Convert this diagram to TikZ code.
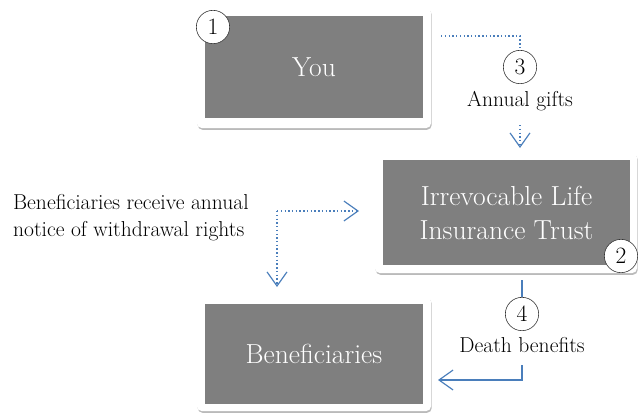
\documentclass[tikz,border=0pt]{standalone}
\usepackage{tikz}
\usetikzlibrary{shapes,arrows.meta,shadows}

\definecolor{boxgray}{HTML}{7F7F7F}
\definecolor{flowblue}{HTML}{4A7EBB}

\tikzset{
  card/.style={shape=rectangle,fill=white,rounded corners=4pt,
    drop shadow={shadow xshift=0.6pt,shadow yshift=-1.5pt,fill=black!45,opacity=0.6}},
  panel/.style={shape=rectangle,fill=boxgray,text=white,align=center,
    font=\fontsize{23.5}{29}\selectfont},
  stepnum/.style={shape=circle,draw=black!80,fill=white,line width=0.5pt,
    minimum size=1.0cm,inner sep=0pt,font=\fontsize{20}{20}\selectfont},
  caption/.style={align=left,font=\fontsize{18.4}{23}\selectfont},
  flowtip/.style={-{Straight Barb[length=12pt,width=17pt,line width=1pt]}},
  dotflow/.style={draw=flowblue,line width=1.2pt,dotted},
  solidflow/.style={draw=flowblue,line width=1pt},
}

\begin{document}
\begin{tikzpicture}[x=0.03cm,y=-0.03cm]
\useasboundingbox (0,0) rectangle (643,412);

\node[card,minimum width=7.02cm,minimum height=3.6cm] (youcard) at (314,68) {};
\node[panel,minimum width=6.54cm,minimum height=3.06cm] (you) at (314,67) {You};
\node[stepnum] (n1) at (213,27) {1};

\node[card,minimum width=7.86cm,minimum height=3.6cm] (trustcard) at (506,213) {};
\node[panel,minimum width=7.41cm,minimum height=3.15cm] (trust) at (506.5,212.5) {Irrevocable Life\\Insurance Trust};
\node[stepnum] (n2) at (621,256) {2};

\node[card,minimum width=7.02cm,minimum height=3.42cm] (benecard) at (314,354) {};
\node[panel,minimum width=6.54cm,minimum height=3.0cm] (bene) at (314,354) {Beneficiaries};

\node[stepnum] (n3) at (520,67) {3};
\node[caption] (gifts) at (520,101) {Annual gifts};
\node[stepnum] (n4) at (522,314) {4};
\node[caption] (death) at (522,345) {Death benefits};
\node[caption,anchor=west] (notice) at (9,218) {Beneficiaries receive annual\\notice of withdrawal rights};

\coordinate (giftstart) at (441,36);
\coordinate (giftturn) at (520,36);
\coordinate (giftfrom) at (520,125);
\coordinate (gifttip) at (520,148);
\coordinate (noticeturn) at (277,211);
\coordinate (noticeright) at (359,211);
\coordinate (noticedown) at (277,287);
\coordinate (deathfrom) at (522,280);
\coordinate (deathgo) at (522,365);
\coordinate (deathturn) at (522,380);
\coordinate (deathtip) at (438,380);

\path [dotflow] (giftstart) -- (giftturn) -- (n3);
\path [dotflow,flowtip] (giftfrom) -- (gifttip);
\path [dotflow,flowtip] (noticeturn) -- (noticeright);
\path [dotflow,flowtip] (noticeturn) -- (noticedown);
\path [solidflow] (deathfrom) -- (n4);
\path [solidflow,flowtip] (deathgo) -- (deathturn) -- (deathtip);
\end{tikzpicture}
\end{document}
